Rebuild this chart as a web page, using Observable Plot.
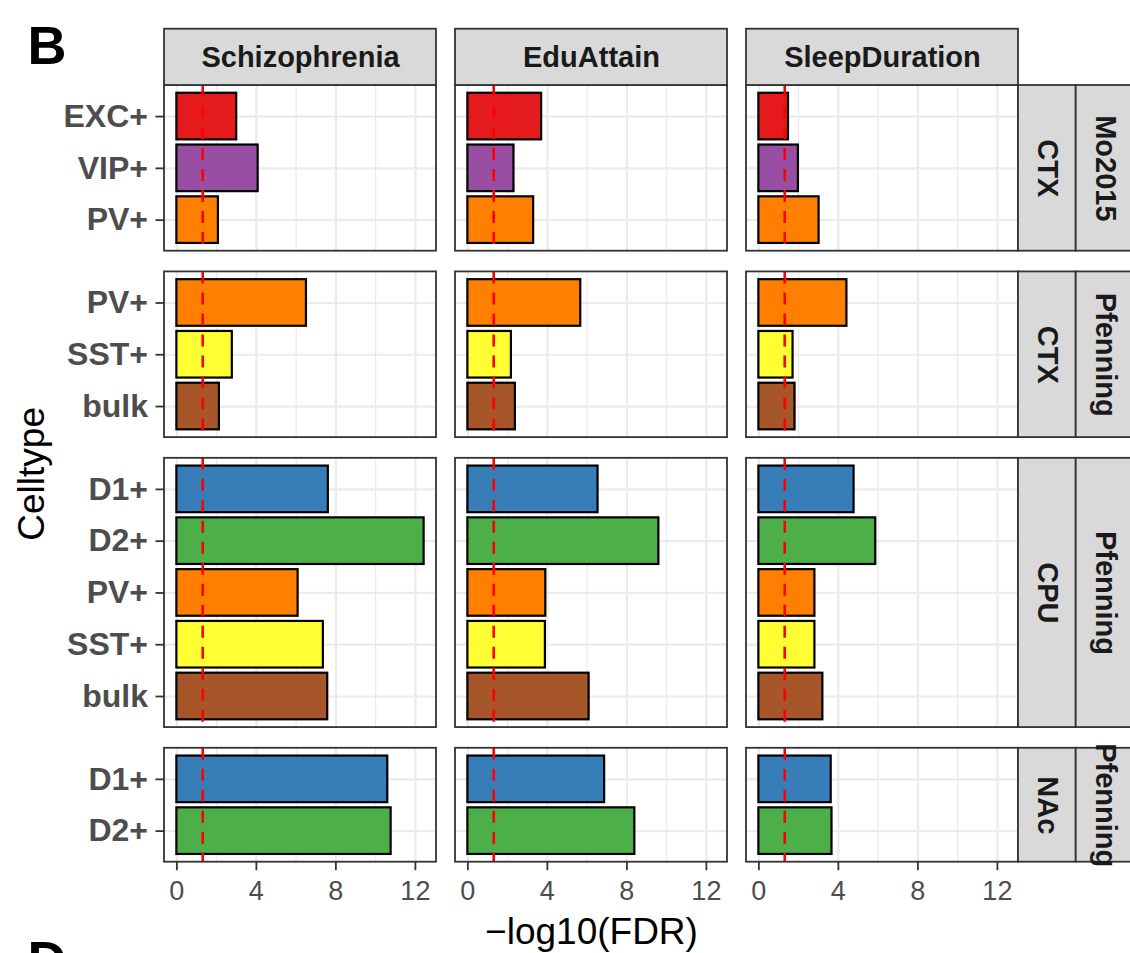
<!DOCTYPE html>
<html>
<head>
<meta charset="utf-8">
<script src="https://cdn.jsdelivr.net/npm/d3@7"></script>
<script src="https://cdn.jsdelivr.net/npm/@observablehq/plot@0.6"></script>
<style>
  html, body { margin: 0; padding: 0; background: #ffffff; }
  #chart { position: relative; width: 1130px; height: 953px; overflow: hidden; }
</style>
</head>
<body>
<div id="chart"></div>
<script>
// ---------------- data ----------------
const traits = ["Schizophrenia", "EduAttain", "SleepDuration"];
const datasets = ["Mo2015", "Pfenning", "Pfenning", "Pfenning"];
const regions = ["CTX", "CTX", "CPU", "NAc"];
const panelCells = [
  ["EXC+", "VIP+", "PV+"],
  ["PV+", "SST+", "bulk"],
  ["D1+", "D2+", "PV+", "SST+", "bulk"],
  ["D1+", "D2+"]
];
// -log10(FDR), in the order of panelCells flattened
const schizophrenia = [3.01, 4.09, 2.09, 6.52, 2.79, 2.14, 7.62, 12.44, 6.10, 7.37, 7.59, 10.61, 10.78];
const eduAttain     = [3.71, 2.32, 3.31, 5.68, 2.19, 2.39, 6.55, 9.61, 3.92, 3.90, 6.10, 6.88, 8.40];
const sleepDuration = [1.49, 1.99, 3.03, 4.43, 1.72, 1.82, 4.79, 5.88, 2.82, 2.82, 3.22, 3.64, 3.68];
const cellTypes  = ["EXC+", "VIP+", "PV+", "SST+", "bulk", "D1+", "D2+"];
const cellColors = ["#E41A1C", "#984EA3", "#FF7F00", "#FFFF33", "#A65628", "#377EB8", "#4DAF4A"];
const fdrThreshold = 0.05;
const xMajor = [0, 4, 8, 12];
const xMinor = [2, 6, 10];
const xLabel = "\u2212log10(FDR)";
const yLabel = "Celltype";

// ---------------- layout (derived) ----------------
const EXPAND = 0.6, GAP = 0.4, BAR = 0.9;
let cursor = 0;
const panels = [];
const slots = [];
panelCells.forEach((cells, p) => {
  const top = cursor;
  cells.forEach((c, i) => slots.push({panel: p, cell: c, yc: top + EXPAND + i}));
  const bottom = top + cells.length - 1 + 2 * EXPAND;
  panels.push({panel: p, dataset: datasets[p], region: regions[p], top, bottom});
  cursor = bottom + GAP;
});
const yMax = cursor - GAP;
const valuesByTrait = [schizophrenia, eduAttain, sleepDuration];
const bars = traits.flatMap((t, k) =>
  slots.map((s, i) => ({trait: t, cell: s.cell, yc: s.yc, value: valuesByTrait[k][i]})));
const labelAt = new Map(slots.map(s => [s.yc, s.cell]));

const W = 1130, H = 953;
const mL = 164, mR = 112, mT = 85, mB = 91.3;
const facetGap = 19;
const maxV = d3.max(bars, d => d.value);
const xDom = [-0.05 * maxV, maxV * 1.05];
const panelW = (W - mL - mR - 2 * facetGap) / 3;
const kx = panelW / (xDom[1] - xDom[0]);
const ku = (H - mT - mB) / yMax;
const stripTopU = 56.3 / ku;
const stripRightU = 57.7 / kx;
const lastTrait = traits[traits.length - 1];
const thr = -Math.log10(fdrThreshold);

const gridMinor = panels.flatMap(p => xMinor.map(x => ({x, top: p.top, bottom: p.bottom})));
const gridMajor = panels.flatMap(p => xMajor.map(x => ({x, top: p.top, bottom: p.bottom})));

const FONT = "'Liberation Sans', Arial, Helvetica, sans-serif";

const chart = Plot.plot({
  width: W,
  height: H,
  marginLeft: mL,
  marginRight: mR,
  marginTop: mT,
  marginBottom: mB,
  style: {fontFamily: FONT, background: "#ffffff"},
  fx: {domain: traits, paddingInner: facetGap / (panelW + facetGap), paddingOuter: 0, axis: null},
  x: {domain: xDom, axis: null},
  y: {domain: [0, yMax], reverse: true, axis: null},
  color: {domain: cellTypes, range: cellColors},
  marks: [
    // grid
    Plot.ruleX(gridMinor, {x: "x", y1: "top", y2: "bottom", stroke: "#ebebeb", strokeWidth: 1.2}),
    Plot.ruleX(gridMajor, {x: "x", y1: "top", y2: "bottom", stroke: "#ebebeb", strokeWidth: 2.2}),
    Plot.ruleY(slots, {y: "yc", stroke: "#ebebeb", strokeWidth: 2.2}),
    // bars
    Plot.rect(bars, {
      fx: "trait", x1: 0, x2: "value",
      y1: d => d.yc - BAR / 2, y2: d => d.yc + BAR / 2,
      fill: "cell", stroke: "#000000", strokeWidth: 2.2
    }),
    // FDR threshold
    Plot.ruleX(panels, {x: thr, y1: "top", y2: "bottom", stroke: "#ff0000", strokeWidth: 2.6, strokeDasharray: "12,9"}),
    // panel frames
    Plot.rect(panels, {x1: xDom[0], x2: xDom[1], y1: "top", y2: "bottom", fill: "none", stroke: "#333333", strokeWidth: 1.8}),
    // top strips
    Plot.rect(traits, {fx: d => d, x1: xDom[0], x2: xDom[1], y1: -stripTopU, y2: 0, fill: "#d9d9d9", stroke: "#333333", strokeWidth: 1.8}),
    Plot.text(traits, {fx: d => d, x: (xDom[0] + xDom[1]) / 2, y: -stripTopU / 2, text: d => d,
      fontSize: 29, fontWeight: "bold", fill: "#1a1a1a", lineAnchor: "middle"}),
    // right strips (region, then dataset)
    Plot.rect(panels, {fx: () => lastTrait, x1: xDom[1], x2: xDom[1] + stripRightU, y1: "top", y2: "bottom",
      fill: "#d9d9d9", stroke: "#333333", strokeWidth: 1.8}),
    Plot.rect(panels, {fx: () => lastTrait, x1: xDom[1] + stripRightU, x2: xDom[1] + 2 * stripRightU, y1: "top", y2: "bottom",
      fill: "#d9d9d9", stroke: "#333333", strokeWidth: 1.8}),
    Plot.text(panels, {fx: () => lastTrait, x: xDom[1] + stripRightU / 2, y: d => (d.top + d.bottom) / 2, text: "region",
      rotate: 90, fontSize: 29, fontWeight: "bold", fill: "#1a1a1a", lineAnchor: "middle"}),
    Plot.text(panels, {fx: () => lastTrait, x: xDom[1] + 1.5 * stripRightU, y: d => (d.top + d.bottom) / 2, text: "dataset",
      rotate: 90, fontSize: 29, fontWeight: "bold", fill: "#1a1a1a", lineAnchor: "middle"}),
    // axes
    Plot.axisY({ticks: slots.map(s => s.yc), tickFormat: v => labelAt.get(v), anchor: "left",
      tickSize: 8.5, tickPadding: 8, stroke: "#333333", fill: "#4d4d4d", strokeWidth: 1.8,
      fontSize: 32, fontWeight: "bold", label: null}),
    Plot.axisX({ticks: xMajor, anchor: "bottom", tickSize: 8.5, tickPadding: 10,
      stroke: "#333333", fill: "#4d4d4d", strokeWidth: 1.8, fontSize: 27, label: null}),
    // axis titles
    Plot.text([xLabel], {fx: () => traits[1], frameAnchor: "bottom", dy: 70, text: d => d,
      fontSize: 37, fill: "#000000", lineAnchor: "middle"}),
    Plot.text([yLabel], {fx: () => traits[0], frameAnchor: "left", dx: -132, text: d => d,
      rotate: -90, fontSize: 37, fill: "#000000", lineAnchor: "middle", textAnchor: "middle"}),
    // panel tags
    Plot.text(["B"], {fx: () => traits[0], frameAnchor: "top-left", dx: -137, dy: -60, text: d => d,
      fontSize: 54, fontWeight: "bold", fill: "#000000", textAnchor: "start", lineAnchor: "top"}),
    Plot.text(["D"], {fx: () => traits[0], frameAnchor: "bottom-left", dx: -137, dy: 78, text: d => d,
      fontSize: 54, fontWeight: "bold", fill: "#000000", textAnchor: "start", lineAnchor: "top"})
  ]
});
document.getElementById("chart").appendChild(chart);
</script>
</body>
</html>
